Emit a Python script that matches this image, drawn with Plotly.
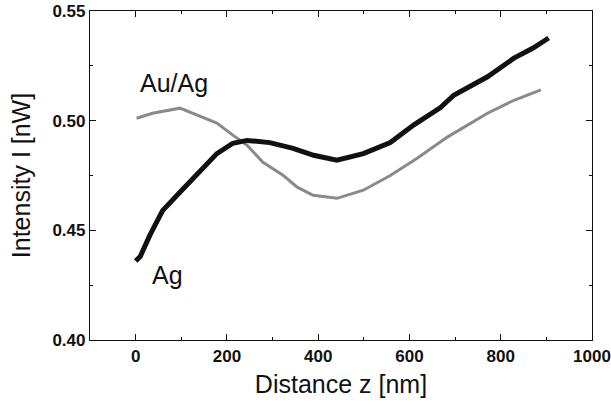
import plotly.graph_objects as go

# Ag curve (black)
ag_x = [0, 10, 31, 59, 97, 141, 178, 213, 244, 294, 345, 390, 441, 499, 558, 609, 668, 697, 771, 829, 870, 905]
ag_y = [0.436, 0.438, 0.4477, 0.459, 0.4674, 0.4774, 0.485, 0.4897, 0.491, 0.490, 0.4874, 0.4842, 0.482, 0.485, 0.490, 0.498, 0.506, 0.5116, 0.520, 0.5285, 0.533, 0.5377]

# Au/Ag curve (gray)
auag_x = [2, 37, 97, 134, 178, 213, 244, 279, 323, 354, 389, 441, 499, 558, 617, 683, 771, 829, 888]
auag_y = [0.5011, 0.5034, 0.5057, 0.5025, 0.4989, 0.4934, 0.4888, 0.481, 0.4751, 0.4697, 0.466, 0.4646, 0.4683, 0.475, 0.4829, 0.4925, 0.5034, 0.5093, 0.514]

x_ticks = [0, 200, 400, 600, 800, 1000]
y_ticks = [0.40, 0.45, 0.50, 0.55]
y_tick_labels = ["0.40", "0.45", "0.50", "0.55"]

fig = go.Figure()
fig.add_trace(go.Scatter(x=auag_x, y=auag_y, mode="lines",
                         line=dict(color="#8a8a8a", width=3), name="Au/Ag"))
fig.add_trace(go.Scatter(x=ag_x, y=ag_y, mode="lines",
                         line=dict(color="#111111", width=5), name="Ag"))

big = dict(family="Liberation Sans", size=25, color="#111")
fig.add_annotation(x=84, y=0.5171, text="Au/Ag", showarrow=False, font=big)
fig.add_annotation(x=70, y=0.4295, text="Ag", showarrow=False, font=big)

tickfont = dict(family="Liberation Sans", size=17, color="#111", weight="bold")
fig.update_layout(
    width=611, height=404,
    margin=dict(l=90, r=19, t=11, b=64),
    plot_bgcolor="white", paper_bgcolor="white",
    showlegend=False,
    xaxis=dict(range=[-100, 1000], tickvals=x_ticks, ticks="inside", ticklen=6,
               tickwidth=1.2, tickcolor="#111", showline=True, linecolor="#111",
               linewidth=1.2, mirror="ticks", showgrid=False, zeroline=False,
               tickfont=tickfont, automargin=False, ticklabeloverflow="allow",
               minor=dict(ticks="inside", dtick=100, tick0=0, ticklen=3, tickcolor="#111", showgrid=False),
               title=dict(text="Distance z [nm]", font=big, standoff=10)),
    yaxis=dict(range=[0.40, 0.55], tickvals=y_ticks, ticktext=y_tick_labels, ticks="inside", ticklen=6,
               tickwidth=1.2, tickcolor="#111", showline=True, linecolor="#111",
               linewidth=1.2, mirror="ticks", showgrid=False, zeroline=False,
               tickfont=tickfont, automargin=False, ticklabeloverflow="allow",
               minor=dict(ticks="inside", dtick=0.025, tick0=0.4, ticklen=3, tickcolor="#111", showgrid=False),
               title=dict(text="Intensity I [nW]", font=big, standoff=14)),
)

fig.write_html("out.html", config={"displayModeBar": False},
               post_script="document.body.style.margin='0';")
